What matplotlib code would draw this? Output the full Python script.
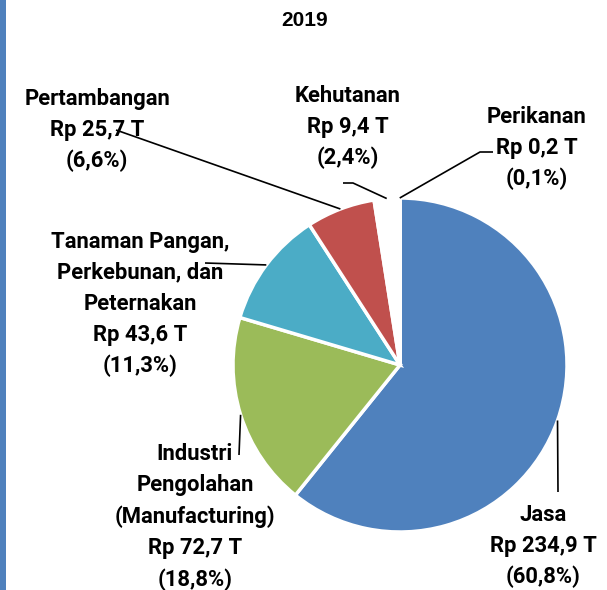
import numpy as np
import matplotlib.pyplot as plt

# data
sectors = ["Jasa", "Industri\nPengolahan\n(Manufacturing)", "Tanaman Pangan,\nPerkebunan, dan\nPeternakan",
           "Pertambangan", "Kehutanan", "Perikanan"]
values = [234.9, 72.7, 43.6, 25.7, 9.4, 0.2]
value_text = ["234,9", "72,7", "43,6", "25,7", "9,4", "0,2"]
pct_text = ["60,8", "18,8", "11,3", "6,6", "2,4", "0,1"]
colors = ["#4F81BD", "#9BBB59", "#4BACC6", "#C0504D", "#FFFFFF", "#FFFFFF"]

W, H = 607, 590
cx, cy, rad = 400, 365, 167

# label centre (px) and the elbow of each leader line
label_pos = [(543, 546), (195, 517), (140, 304), (97, 130), (348, 127), (537, 148)]
leader_via = [[(558, 492)], [(239, 455)], [(205, 263)], [(116, 130)],
              [(353, 183), (343, 183)], [(480, 152), (493, 152)]]


def py(y):
    return H - y


fig = plt.figure(figsize=(W / 100, H / 100), dpi=100)
ax = fig.add_axes([0, 0, 1, 1])

wedges, _ = ax.pie(values, colors=colors, startangle=90, counterclock=False,
                   center=(cx, py(cy)), radius=rad,
                   wedgeprops=dict(edgecolor="white", linewidth=2.5))
ax.set_xlim(0, W)
ax.set_ylim(0, H)
ax.set_aspect("equal")
ax.axis("off")

for i, w in enumerate(wedges):
    mid = np.deg2rad((w.theta1 + w.theta2) / 2)
    px0 = cx + rad * np.cos(mid)
    py0 = py(cy) + rad * np.sin(mid)
    pts = [(px0, py0)] + [(x, py(y)) for x, y in leader_via[i]]
    xs, ys = zip(*pts)
    ax.plot(xs, ys, color="black", lw=1.2, solid_capstyle="butt")
    txt = sectors[i] + "\nRp " + value_text[i] + " T\n(" + pct_text[i] + "%)"
    lx, ly = label_pos[i]
    ax.text(lx, py(ly), txt, ha="center", va="center", multialignment="center",
            fontsize=15.8, fontweight="bold", family=["Roboto", "DejaVu Sans"], linespacing=1.53)

ax.text(305, py(20), "2019", ha="center", va="center", fontsize=15, fontweight="bold",
        family=["Liberation Sans", "DejaVu Sans"])

# blue border on the left side
fig.add_artist(plt.Rectangle((0, 0), 6 / W, 1, transform=fig.transFigure, color="#4F81BD", lw=0))

fig.savefig("out.png", dpi=100)
